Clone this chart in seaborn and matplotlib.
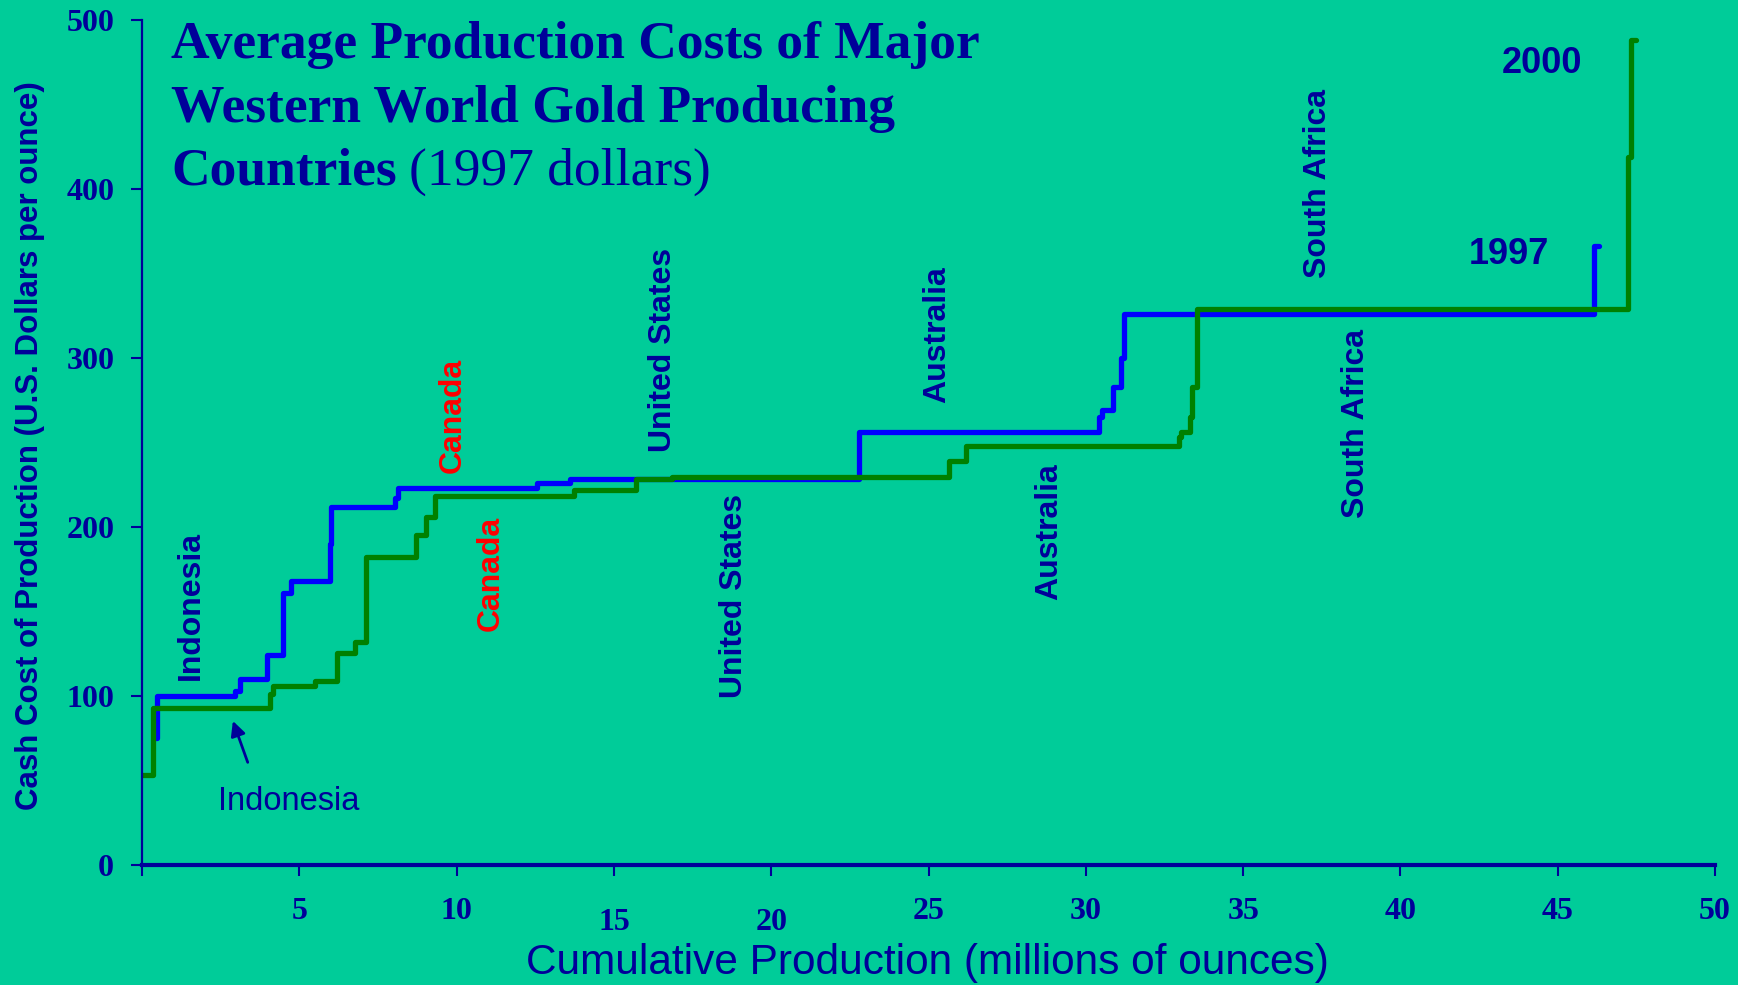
import matplotlib
matplotlib.use('Agg')
import matplotlib.pyplot as plt
from matplotlib.transforms import ScaledTranslation
import pandas as pd
import seaborn as sns

# step curves: x = cumulative production (M oz), y = cash cost ($/oz)
blue_x = [0.42, 0.47, 2.96, 3.12, 3.97, 4.49, 4.73, 5.96, 6.02, 8.05, 8.13, 12.54,
          13.60, 22.78, 30.42, 30.50, 30.85, 31.11, 31.20, 46.15, 46.30]
blue_y = [75, 100, 103, 110, 124, 161, 168, 190, 212, 217, 223, 226,
          228, 256, 265, 269, 283, 300, 326, 366, 366]

green_x = [0.00, 0.34, 4.07, 4.15, 5.51, 6.19, 6.78, 7.13, 8.72, 9.04, 9.32, 13.72,
           15.69, 16.85, 25.65, 26.20, 32.97, 33.02, 33.30, 33.37, 33.52, 47.23, 47.34, 47.50]
green_y = [53, 92.5, 101, 106, 109, 125.5, 131.5, 182, 195, 206, 218, 222,
           228, 229.5, 239, 248, 253, 256, 265, 283, 329, 419, 488, 488]

# country labels (text, x, y, colour)
country_labels = [
    ('Indonesia', 1.55, 153.5, 'navy'),
    ('Canada', 9.87, 265.7, 'red'),
    ('Canada', 11.07, 172.6, 'red'),
    ('United States', 16.57, 304.5, 'navy'),
    ('United States', 18.83, 158.8, 'navy'),
    ('Australia', 25.28, 313.6, 'navy'),
    ('Australia', 28.84, 196.9, 'navy'),
    ('South Africa', 37.38, 403.5, 'navy'),
    ('South Africa', 38.58, 261.2, 'navy'),
]
x_ticks = [0, 5, 10, 15, 20, 25, 30, 35, 40, 45, 50]
y_ticks = [0, 100, 200, 300, 400, 500]

BG = '#00CC99'
NAVY = '#000099'
colours = {'navy': NAVY, 'red': '#FF0000'}

sns.set_style('ticks')
plt.rcParams['font.family'] = ['Liberation Sans', 'DejaVu Sans']

df = pd.concat([
    pd.DataFrame({'production': blue_x, 'cost': blue_y, 'year': '1997'}),
    pd.DataFrame({'production': green_x, 'cost': green_y, 'year': '2000'}),
])

fig = plt.figure(figsize=(17.38, 9.85), dpi=100, facecolor=BG)
ax = fig.add_axes([0.0817, 0.1222, 0.9051, 0.8575], facecolor=BG)

sns.lineplot(data=df, x='production', y='cost', hue='year',
             palette={'1997': '#0000FF', '2000': '#008000'},
             estimator=None, sort=False, drawstyle='steps-post',
             linewidth=3.8, legend=False, ax=ax)

ax.set_xlim(0, 50)
ax.set_ylim(0, 500)
ax.set_xticks(x_ticks)
ax.set_xticklabels(['' if t == 0 else str(t) for t in x_ticks])
ax.set_yticks(y_ticks)
ax.set_yticklabels([str(t) for t in y_ticks])
ax.set_xlabel('')
ax.set_ylabel('')

for side in ['top', 'right']:
    ax.spines[side].set_visible(False)
ax.spines['left'].set_color(NAVY)
ax.spines['left'].set_linewidth(1.6)
ax.spines['bottom'].set_color(NAVY)
ax.spines['bottom'].set_linewidth(3)
ax.tick_params(axis='both', colors=NAVY, length=8, width=1.5)
ax.tick_params(axis='x', pad=15)
ax.tick_params(axis='y', pad=12)
for lab in ax.get_xticklabels() + ax.get_yticklabels():
    lab.set_fontfamily('Liberation Serif')
    lab.set_fontweight('bold')
    lab.set_fontsize(23)
    lab.set_color(NAVY)
for lab in ax.get_xticklabels():
    if lab.get_text() in ('15', '20'):
        lab.set_transform(lab.get_transform() + ScaledTranslation(0, -8 / 72, fig.dpi_scale_trans))

for text, x, y, c in country_labels:
    ax.text(x, y, text, rotation=90, ha='center', va='center',
            fontsize=23, fontweight='bold', color=colours[c])

ax.text(44.5, 474.4, '2000', ha='center', va='center', fontsize=26, fontweight='bold', color=NAVY)
ax.text(43.44, 360.9, '1997', ha='center', va='center', fontsize=26, fontweight='bold', color=NAVY)

ax.annotate('', xy=(2.86, 86.6), xytext=(3.39, 59),
            arrowprops=dict(arrowstyle='-|>', color=NAVY, lw=2, mutation_scale=22))
ax.text(4.65, 37.4, 'Indonesia', ha='center', va='center', fontsize=23.5, color=NAVY)

# title
tkw = dict(fontfamily='Liberation Serif', fontsize=38.5, color=NAVY, va='baseline')
fig.text(0.0984, 0.9408, 'Average Production Costs of Major', fontweight='bold', **tkw)
fig.text(0.0984, 0.8764, 'Western World Gold Producing', fontweight='bold', **tkw)
t3 = fig.text(0.0984, 0.8122, 'Countries', fontweight='bold', **tkw)
ax.annotate('(1997 dollars)', xy=(1, 0), xycoords=t3, xytext=(9, 0), textcoords='offset points',
            fontfamily='Liberation Serif', fontsize=38.5, color=NAVY, va='bottom', annotation_clip=False)

fig.text(0.0173, 0.548, 'Cash Cost of Production (U.S. Dollars per ounce)', rotation=90,
         ha='center', va='center', fontsize=22.5, fontweight='bold', color=NAVY)
fig.text(0.5336, 0.011, 'Cumulative Production (millions of ounces)', ha='center', va='baseline',
         fontsize=30.5, color=NAVY)

fig.savefig('out.png', dpi=100, facecolor=BG)
